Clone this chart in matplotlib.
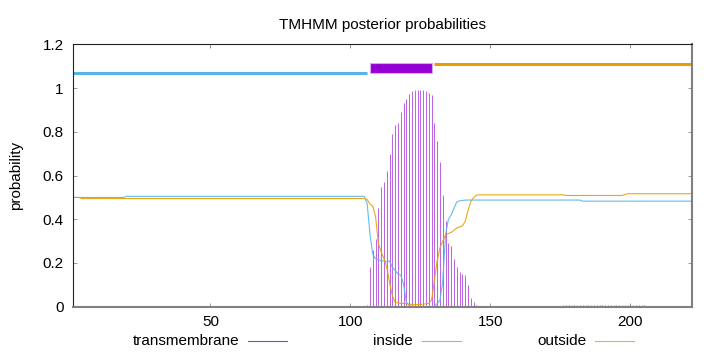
import numpy as np
import matplotlib.pyplot as plt
from matplotlib.lines import Line2D
from matplotlib.patches import Rectangle

plt.rcParams['font.family'] = ['Liberation Sans', 'DejaVu Sans']
plt.rcParams['font.size'] = 11

seq_len = 222
residues = np.arange(1, seq_len + 1)

# posterior probabilities per residue
tm_prob = ([0.0] + [0.005] * 21 + [0.0] * 83
           + [0.01, 0.18, 0.26, 0.31, 0.45, 0.55, 0.57, 0.62, 0.70, 0.79,
              0.83, 0.84, 0.89, 0.93, 0.95, 0.975, 0.985, 0.99, 0.99, 0.99,
              0.99, 0.985, 0.98, 0.97, 0.84, 0.76, 0.66, 0.51, 0.39, 0.29,
              0.28, 0.22, 0.18, 0.16, 0.15, 0.145, 0.10, 0.04, 0.02, 0.01]
           + [0.0] * 30 + [0.006] * 30 + [0.0] * 17)

inside_prob = ([0.500] * 19 + [0.505] * 86
               + [0.47, 0.33, 0.24, 0.22, 0.215, 0.21, 0.21, 0.205, 0.21, 0.18,
                  0.165, 0.15, 0.145, 0.10, 0.02, 0.005]
               + [0.0] * 9
               + [0.015, 0.03, 0.12, 0.33, 0.40, 0.42, 0.45, 0.48, 0.484, 0.486]
               + [0.488] * 42 + [0.483] * 40)

outside_prob = ([0.500] * 3 + [0.495] * 102
                + [0.49, 0.47, 0.46, 0.41, 0.29, 0.25, 0.22, 0.18, 0.11, 0.05,
                   0.02, 0.018, 0.015, 0.015, 0.013, 0.012, 0.01, 0.01, 0.01, 0.01,
                   0.012, 0.013, 0.015, 0.03, 0.12, 0.21, 0.27, 0.30, 0.33, 0.335,
                   0.34, 0.35, 0.36, 0.365, 0.37, 0.39, 0.44, 0.48, 0.50, 0.51]
                + [0.512] * 31 + [0.509] * 21 + [0.513] + [0.517] * 24)

# predicted topology: (label, start, end)
topology = [('inside', 1, 106), ('TMhelix', 107, 129), ('outside', 130, 222)]

col_tm = '#9400D3'
col_in = '#56B4E9'
col_out = '#E69F00'

fig = plt.figure(figsize=(7.2, 3.52), dpi=100)
ax = fig.add_axes([0.1018, 0.1287, 0.8592, 0.7449])

ax.vlines(residues, 0, tm_prob, color=col_tm, lw=0.75, alpha=0.6)
ax.plot(residues, inside_prob, color=col_in, lw=0.8, alpha=0.9)
ax.plot(residues, outside_prob, color=col_out, lw=0.8, alpha=0.9)

for name, s, e in topology:
    if name == 'inside':
        ax.plot([s, e], [1.07, 1.07], color=col_in, lw=2.2, solid_capstyle='butt')
    elif name == 'outside':
        ax.plot([s, e], [1.11, 1.11], color=col_out, lw=2.2, solid_capstyle='butt')
    else:
        ax.add_patch(Rectangle((s, 1.068), e - s, 0.046, facecolor=col_tm,
                               edgecolor='#d9a6f0', lw=0.8))

ax.set_xlim(1, seq_len)
ax.set_ylim(0, 1.2)
ax.set_xticks([50, 100, 150, 200])
ax.set_yticks([0, 0.2, 0.4, 0.6, 0.8, 1.0, 1.2])
ax.set_yticklabels(['0', '0.2', '0.4', '0.6', '0.8', '1', '1.2'])
ax.tick_params(direction='in', length=3, width=0.6, color='#888888',
               top=True, right=True, labelsize=11)
ax.tick_params(axis='y', pad=7)
ax.tick_params(axis='x', pad=6)

for side in ['top', 'left']:
    ax.spines[side].set_color('#222222')
    ax.spines[side].set_linewidth(0.8)
for side in ['bottom', 'right']:
    ax.spines[side].set_color('#808080')
    ax.spines[side].set_linewidth(1.5)

ax.set_ylabel('probability', fontsize=11, labelpad=14)
ax.set_title('TMHMM posterior probabilities', fontsize=11, pad=11)

# gnuplot style key below the plot
key = [('transmembrane', col_tm), ('inside', col_in), ('outside', col_out)]
for i, (lab, c) in enumerate(key):
    x_text = (239 + 174 * i) / 720
    fig.text(x_text, 11 / 352, lab, ha='right', va='center', fontsize=11)
    x0 = (248 + 173.5 * i) / 720
    fig.add_artist(Line2D([x0, x0 + 39 / 720], [11 / 352, 11 / 352],
                          color=c, lw=0.8, alpha=0.8, transform=fig.transFigure))

fig.savefig('out.png', dpi=100)
